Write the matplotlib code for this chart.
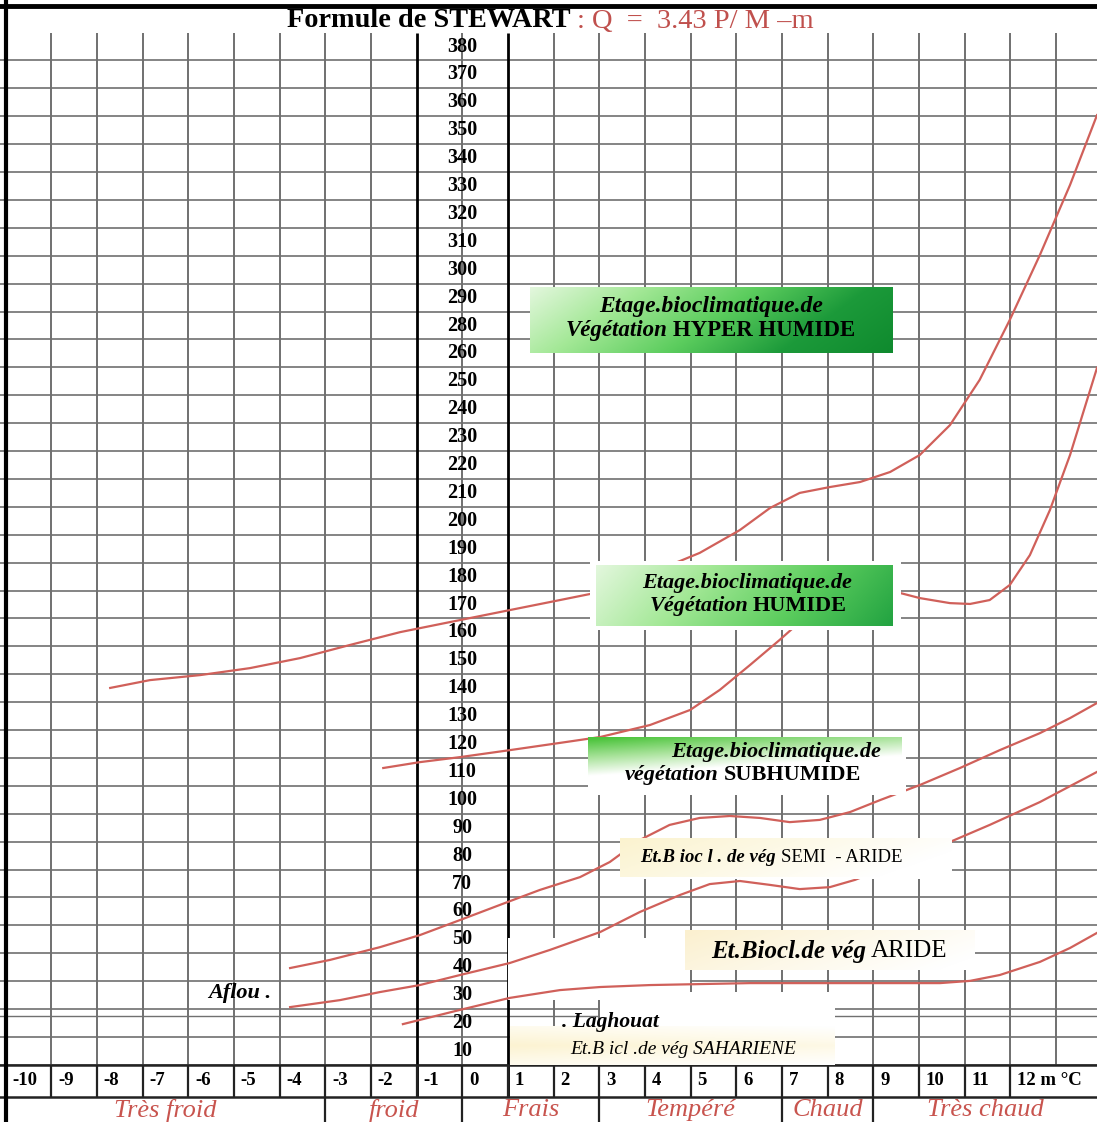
import numpy as np
import matplotlib.pyplot as plt
from matplotlib.colors import LinearSegmentedColormap

plt.rcParams['font.family'] = ['Liberation Serif', 'DejaVu Serif']

W, H = 1097, 1122

# axe horizontal : m en °C, une case par degré
m_cells = list(range(-10, 13))
m_labels = [str(k) for k in range(-10, 12)] + ["12 m °C"]

# axe vertical : Q (l'abaque saute 270)
q_labels = list(range(10, 270, 10)) + list(range(280, 390, 10))

zones = ["Très froid", "froid", "Frais", "Tempéré", "Chaud", "Très chaud"]
zone_limits = [-10, -3, 0, 3, 7, 9, 13.9]

hyper_m = [-7.71, -6.84, -5.74, -4.65, -3.55, -2.46, -1.36, -0.27, 1.04, 2.14, 3.02,
           4.77, 5.20, 6.08, 6.74, 7.39, 8.05, 8.71, 9.37, 10.02, 10.68, 11.33,
           11.99, 12.65, 13.31, 13.90]
hyper_q = [140.1, 142.9, 144.7, 147.2, 150.8, 155.5, 160.1, 163.7, 168.0, 171.6, 174.5,
           185.6, 188.5, 196.7, 204.6, 210.0, 212.1, 213.9, 217.5, 223.6, 234.3, 250.5,
           282.0, 305.3, 330.4, 355.4]

humide_m = [-1.73, -0.93, -0.05, 1.04, 2.14, 3.02, 4.11, 4.99, 5.64, 6.30, 6.95, 7.39,
            9.43, 10.02, 10.68, 11.12, 11.55, 11.99, 12.43, 12.87, 13.31, 13.90]
humide_q = [111.4, 113.5, 115.3, 117.8, 120.4, 122.5, 126.8, 132.2, 139.4, 148.3, 157.3, 163.7,
            174.8, 172.3, 170.5, 170.2, 171.6, 177.0, 187.7, 203.9, 223.6, 254.8]

subhum_m = [-3.77, -2.90, -1.80, -0.93, -0.05, 0.82, 1.70, 2.58, 3.23, 3.89, 4.54, 5.20,
            5.86, 6.52, 7.17, 7.83, 8.49, 9.15, 10.02, 10.90, 11.77, 12.65, 13.31, 13.90]
subhum_q = [39.7, 42.6, 47.2, 51.5, 56.9, 62.3, 67.7, 72.3, 77.7, 85.6, 91.0, 93.5,
            94.2, 93.5, 92.0, 92.8, 95.6, 99.9, 105.3, 111.4, 117.8, 123.9, 129.3, 134.7]

semiar_m = [-3.77, -2.68, -1.80, -0.93, -0.05, 1.04, 1.92, 3.02, 3.89, 4.77, 5.42, 6.08,
            6.74, 7.39, 8.05, 8.60, 10.68, 11.55, 12.65, 13.90]
semiar_q = [25.7, 28.2, 31.1, 33.6, 37.2, 41.5, 46.2, 52.6, 59.8, 65.9, 69.8, 70.9,
            69.5, 68.0, 68.7, 71.3, 84.9, 91.0, 99.2, 110.0]

aride_m = [-1.30, -0.05, 1.04, 2.14, 3.02, 4.11, 6.30, 8.49, 10.46, 11.12, 11.77, 12.65,
           13.31, 13.90]
aride_q = [19.6, 24.7, 29.0, 31.8, 32.9, 33.6, 34.3, 34.3, 34.3, 35.1, 37.2, 41.9,
           46.9, 52.3]

RED = '#d0605a'
GRID = '#707070'


def fwd(q):
    q = np.asarray(q, dtype=float)
    return np.where(q <= 260, q, np.where(q >= 280, q - 10, 260 + (q - 260) / 2))


def inv(p):
    p = np.asarray(p, dtype=float)
    return np.where(p <= 260, p, np.where(p >= 270, p + 10, 260 + 2 * (p - 260)))


fig = plt.figure(figsize=(W / 100, H / 100), dpi=100)
ax = fig.add_axes([0, 0, 1, 1])
ax.set_yscale('function', functions=(fwd, inv))
ax.set_xlim(-10.123, 13.90)
ax.set_ylim(-15.48, 396.67)
ax.set_axis_off()

ov = fig.add_axes([0, 0, 1, 1], zorder=2)
ov.set_xlim(0, W)
ov.set_ylim(H, 0)
ov.set_axis_off()
ov.set_autoscale_on(False)
PX = ov.transData

# quadrillage
q_top = float(inv(375))
for k in range(-9, 14):
    if k in (-1, 1):
        continue
    ax.vlines(k, 5, q_top, color='#5e5e5e', lw=1.25, zorder=1)
ax.hlines(inv(np.arange(5, 366, 10)), -10.2, 14, color=GRID, lw=1.2, zorder=1)
ax.hlines(22.5, -10.2, 14, color=GRID, lw=1.0, zorder=1)
ax.vlines([-1, 1], -6.5, q_top, color='black', lw=2.0, zorder=1.2)

# zones blanches du document
for (x0, y0, x1, y1) in [(508, 938, 690, 1000), (600, 992, 835, 1030)]:
    ax.add_patch(plt.Rectangle((x0, y0), x1 - x0, y1 - y0, transform=PX,
                               facecolor='white', edgecolor='none', zorder=1.5))

# courbes
for xs, ys in [(hyper_m, hyper_q), (humide_m, humide_q), (subhum_m, subhum_q),
               (semiar_m, semiar_q), (aride_m, aride_q)]:
    ax.plot(xs, ys, color=RED, lw=1.6, zorder=3)

# graduations Q
for q in q_labels:
    ax.text(0, q, str(q), ha='center', va='center', fontsize=14.5,
            fontweight='bold', zorder=4)

# tableau du bas
ax.hlines([5, -6.5], -10.2, 14, color='#222222', lw=1.8, zorder=2)
ax.vlines(range(-9, 13), -6.5, 5, color='#222222', lw=1.6, zorder=2)
ax.vlines(zone_limits[1:-1], -15.6, -6.5, color='#222222', lw=1.6, zorder=2)
for k, lab in zip(m_cells, m_labels):
    ax.text(k + 0.15, -0.75, lab, ha='left', va='center', fontsize=13.5,
            fontweight='bold', zorder=4)
for name, a, b in zip(zones, zone_limits[:-1], zone_limits[1:]):
    ax.text((a + b) / 2, -11.2, name, ha='center', va='center', fontsize=19,
            style='italic', color='#c8544e', zorder=4)

# cadre
ax.vlines(-10, -16, 400, color='black', lw=3, zorder=5)
ov.plot([0, W], [6, 6], color='black', lw=3.5, zorder=5)

# titre
ov.text(287, 20, "Formule de STEWART", ha='left', va='center', fontsize=20.3,
        fontweight='bold')
ov.text(577, 21, ": Q  =  3.43 P/ M \u2013m", ha='left', va='center', fontsize=20.5,
        color='#c0504d')


def grad_box(x0, y0, x1, y1, colors, fn, pad=(0, 0, 0, 0)):
    if any(pad):
        ov.add_patch(plt.Rectangle((x0 - pad[0], y0 - pad[1]),
                                   x1 - x0 + pad[0] + pad[2], y1 - y0 + pad[1] + pad[3],
                                   facecolor='white', edgecolor='none', zorder=1))
    u = np.linspace(0, 1, 300)[None, :]
    v = np.linspace(0, 1, 80)[:, None]
    t = np.clip(fn(u, v), 0, 1)
    cmap = LinearSegmentedColormap.from_list('g', colors)
    ov.imshow(cmap(t), extent=(x0, x1, y1, y0), aspect='auto', zorder=2,
              interpolation='bilinear')


grad_box(530, 287, 893, 353, ['#e3f7dd', '#a3e896', '#5ccd5e', '#1c9a3a', '#0f8a2e'],
         lambda u, v: 0.8 * u + 0.2 * v)
grad_box(596, 565, 893, 626, ['#e3f7dd', '#a3e896', '#5ccd5e', '#22a341'],
         lambda u, v: 0.85 * u + 0.15 * v, pad=(6, 4, 8, 4))
grad_box(588, 737, 902, 793, ['#4cc43c', '#a9e39b', '#ffffff'],
         lambda u, v: 1.5 * v + 0.55 * u - 0.05, pad=(0, 0, 4, 2))
grad_box(620, 838, 952, 877, ['#fbf3cf', '#fdf9e6', '#ffffff'],
         lambda u, v: 0.9 * u + 0.3 * v, pad=(0, 0, 0, 2))
grad_box(685, 930, 975, 970, ['#fbf0cf', '#fdf8e8', '#ffffff'],
         lambda u, v: 0.8 * u + 0.3 * v)
grad_box(510, 1026, 835, 1065, ['#fcf3d2', '#fefaea', '#ffffff'],
         lambda u, v: 0.4 * u + 0.6 * abs(v - 0.5) * 2)


def two_part(xsplit, y, left, right, size, rweight='bold'):
    ov.text(xsplit, y, left, ha='right', va='center', fontsize=size,
            style='italic', fontweight='bold', zorder=5)
    ov.text(xsplit + 5, y, right, ha='left', va='center', fontsize=size,
            fontweight=rweight, zorder=5)


ov.text(711, 306, "Etage.bioclimatique.de", ha='center', va='center', fontsize=17,
        style='italic', fontweight='bold', zorder=5)
two_part(668, 330, "Végétation", "HYPER HUMIDE", 16.5)

ov.text(747, 583, "Etage.bioclimatique.de", ha='center', va='center', fontsize=16,
        style='italic', fontweight='bold', zorder=5)
two_part(748, 606, "Végétation", "HUMIDE", 16)

ov.text(776, 752, "Etage.bioclimatique.de", ha='center', va='center', fontsize=16,
        style='italic', fontweight='bold', zorder=5)
two_part(719, 775, "végétation", "SUBHUMIDE", 16)

two_part(776, 857, "Et.B ioc l . de vég", "SEMI  - ARIDE", 13.5, rweight='normal')
two_part(866, 951, "Et.Biocl.de vég", "ARIDE", 18, rweight='normal')

ov.text(683, 1049, "Et.B icl .de vég SAHARIENE", ha='center', va='center',
        fontsize=14, style='italic', zorder=5)
ov.text(562, 1022, ". Laghouat", ha='left', va='center', fontsize=15.5,
        style='italic', fontweight='bold', zorder=5)
ov.text(240, 993, "Aflou .", ha='center', va='center', fontsize=16,
        style='italic', fontweight='bold', zorder=5)

fig.savefig('out.png', dpi=100)
